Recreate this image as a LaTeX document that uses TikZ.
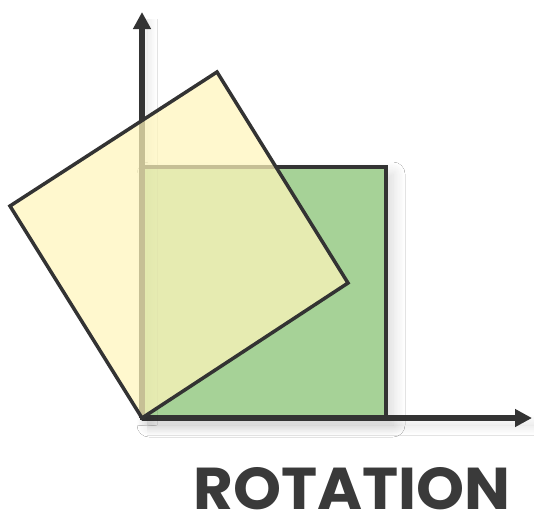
\documentclass[tikz,border=0pt]{standalone}
\usepackage{fontspec}
\newfontfamily\labelfont{Poppins}
\usetikzlibrary{arrows.meta,shadows.blur}
\definecolor{greenfill}{HTML}{A6D297}
\definecolor{yellowfill}{HTML}{FFF6BC}
\definecolor{inkdark}{HTML}{333333}
\definecolor{textdark}{HTML}{3A3A3A}
\tikzset{
  axisline/.style={line width=6pt, draw=inkdark, -{Triangle[length=17pt,width=17pt]},
    blur shadow={shadow xshift=5pt, shadow yshift=-7pt, shadow opacity=14, shadow blur radius=10pt, shadow blur steps=12}},
  greensq/.style={fill=greenfill, draw=inkdark, line width=4pt, line join=miter,
    blur shadow={shadow xshift=7pt, shadow yshift=-7pt, shadow opacity=15, shadow blur radius=12pt, shadow blur steps=12}},
  yellowsq/.style={fill=yellowfill, fill opacity=0.72, draw=inkdark, line width=3.5pt, line join=miter},
}
\begin{document}
\begin{tikzpicture}[x=1pt,y=-1pt]
\useasboundingbox (0,0) rectangle (534,515);
\fill[white] (0,0) rectangle (534,515);
\coordinate (O) at (142,418);
\coordinate (G1) at (386,418);
\coordinate (G2) at (386,167);
\coordinate (G3) at (142,167);
\coordinate (XT) at (532,418);
\coordinate (YT) at (142,12);
\coordinate (Y1) at (348,283);
\coordinate (Y2) at (217,72);
\coordinate (Y3) at (10,206);
\path[greensq] (O) -- (G1) -- (G2) -- (G3) -- cycle;
\draw[axisline] (O) -- (XT);
\draw[axisline] (O) -- (YT);
\path[yellowsq] (O) -- (Y1) -- (Y2) -- (Y3) -- cycle;
\node[anchor=base west, inner sep=0pt, text=textdark] (title) at (193,509)
  {\resizebox{317pt}{42pt}{\labelfont\bfseries ROTATION}};
\end{tikzpicture}
\end{document}
